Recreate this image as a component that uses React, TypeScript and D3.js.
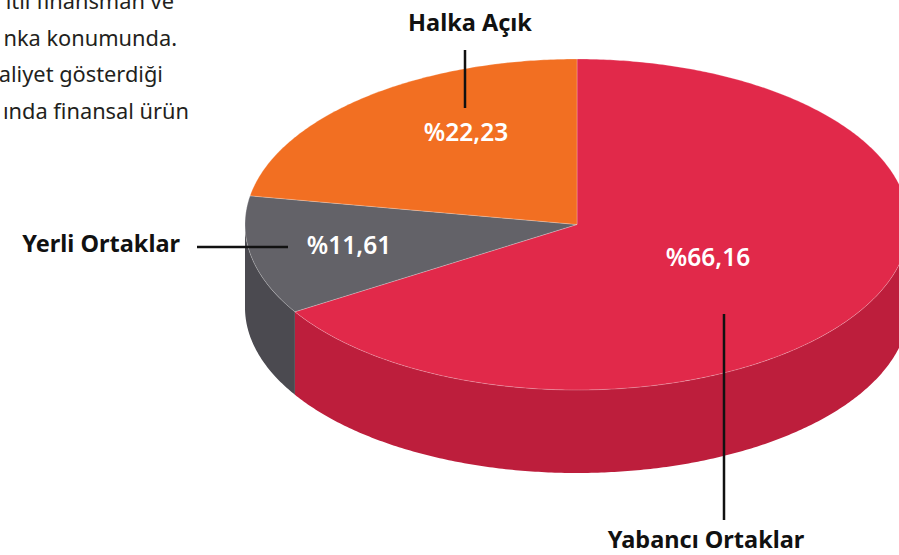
import React from "react";
import * as d3 from "d3";

const categories = ["Yabancı Ortaklar", "Yerli Ortaklar", "Halka Açık"];
const values = [66.16, 11.61, 22.23];
const valueLabels = ["%66,16", "%11,61", "%22,23"];
const topColors = ["#E1294A", "#636268", "#F26F22"];
const sideColors = ["#BD1E3C", "#4B4A50", "#D85E18"];
const paragraphLines = ["itli finansman ve", "nka konumunda.", "aliyet gösterdiği", "ında finansal ürün"];

const W = 899;
const H = 555;
const cx = 577;
const cy = 224.5;
const rx = 332;
const ry = 165.5;
const depth = 83;

const pt = (a: number, dy = 0): [number, number] => [cx + rx * Math.sin(a), cy - ry * Math.cos(a) + dy];

const line = d3.line<[number, number]>();

function arcPoints(a0: number, a1: number, dy = 0): [number, number][] {
  const n = Math.max(2, Math.ceil(Math.abs(a1 - a0) / 0.01));
  return d3.range(n + 1).map((i) => pt(a0 + ((a1 - a0) * i) / n, dy));
}

// label layout (positions of annotations)
const valuePos = [
  { x: 708, y: 266 },
  { x: 349, y: 254 },
  { x: 466, y: 141 },
];

export default function App() {
  const pie = d3.pie<number>().sort(null).startAngle(0).endAngle(2 * Math.PI);
  const arcs = pie(values);

  const sides = arcs.map((a, i) => {
    const s0 = Math.max(a.startAngle, Math.PI / 2);
    const s1 = Math.min(a.endAngle, (3 * Math.PI) / 2);
    if (s1 <= s0) return null;
    const top = arcPoints(s0, s1);
    const bottom = arcPoints(s1, s0, depth);
    return <path key={"s" + i} d={line([...top, ...bottom])! + "Z"} fill={sideColors[i]} />;
  });

  const tops = arcs.map((a, i) => {
    const pts: [number, number][] = [[cx, cy], ...arcPoints(a.startAngle, a.endAngle)];
    return (
      <path
        key={"t" + i}
        d={line(pts)! + "Z"}
        fill={topColors[i]}
        stroke="rgba(255,255,255,0.3)"
        strokeWidth={0.8}
        strokeLinejoin="round"
      />
    );
  });

  const labelFont = "'Noto Sans', 'Open Sans', sans-serif";

  return (
    <svg width={W} height={H} style={{ position: "absolute", left: 0, top: 0, display: "block" }}>
      <rect width={W} height={H} fill="#ffffff" />
      <g fontFamily={labelFont} fontSize={21.8} fill="#231f20">
        {paragraphLines.map((t, i) => (
          <text key={i} x={[174, 177, 163, 189][i]} y={9 + i * 36.5} textAnchor="end">
            {t}
          </text>
        ))}
      </g>
      {sides}
      {tops}
      <g fontFamily={labelFont} fontSize={24.5} fontWeight={600} fill="#ffffff" textAnchor="middle">
        {valueLabels.map((t, i) => (
          <text key={i} x={valuePos[i].x} y={valuePos[i].y}>
            {t}
          </text>
        ))}
      </g>
      <g stroke="#111" strokeWidth={2.5}>
        <line x1={465} y1={50} x2={465} y2={108} />
        <line x1={197} y1={247} x2={288} y2={247} />
        <line x1={724} y1={314} x2={724} y2={520} />
      </g>
      <g fontFamily={labelFont} fontSize={23.5} fontWeight={700} fill="#111">
        <text x={470} y={31} textAnchor="middle">{categories[2]}</text>
        <text x={180} y={252} textAnchor="end">{categories[1]}</text>
        <text x={706} y={548} textAnchor="middle">{categories[0]}</text>
      </g>
    </svg>
  );
}
